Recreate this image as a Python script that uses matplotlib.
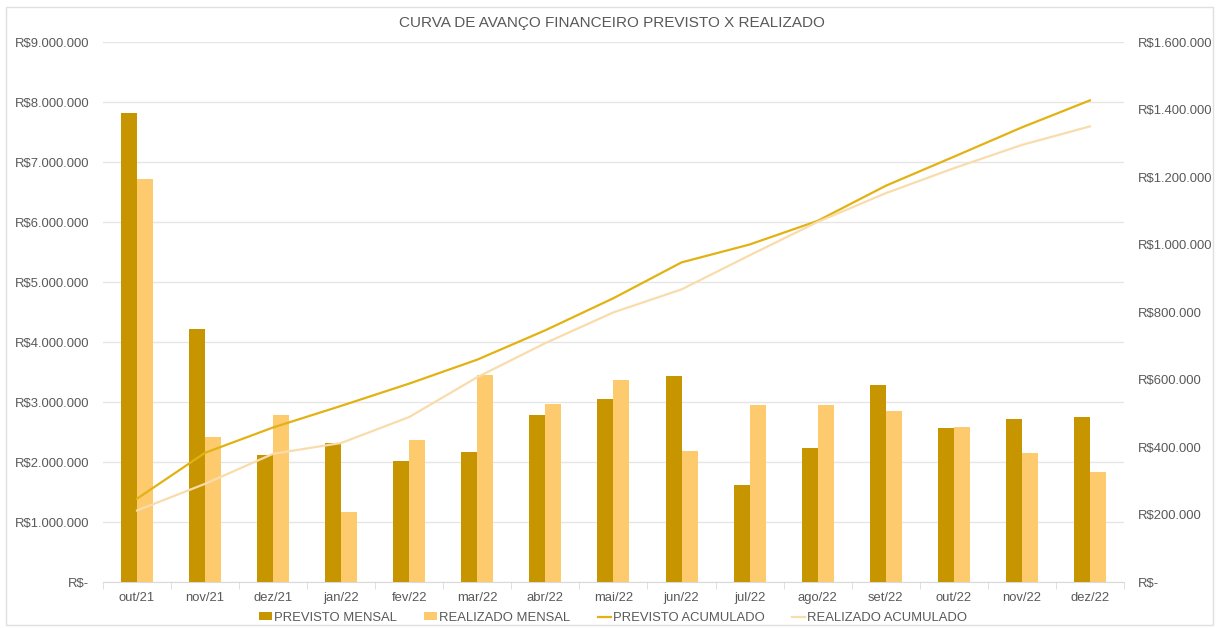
import matplotlib
matplotlib.use("Agg")
import matplotlib.pyplot as plt
import matplotlib.patches as mpatches
from matplotlib.lines import Line2D
from matplotlib.ticker import FuncFormatter, MultipleLocator, FixedLocator
import numpy as np

# ── data ──────────────────────────────────────────────────────────────────────
meses = ["out/21", "nov/21", "dez/21", "jan/22", "fev/22", "mar/22", "abr/22",
         "mai/22", "jun/22", "jul/22", "ago/22", "set/22", "out/22", "nov/22", "dez/22"]

previsto_mensal = [7820000, 4220000, 2120000, 2320000, 2020000, 2170000, 2780000,
                   3050000, 3440000, 1610000, 2230000, 3280000, 2570000, 2710000, 2750000]
realizado_mensal = [6710000, 2410000, 2780000, 1170000, 2370000, 3450000, 2970000,
                    3360000, 2190000, 2950000, 2950000, 2850000, 2580000, 2150000, 1840000]

previsto_acum = [247000, 383000, 458000, 522000, 588000, 659000, 746000,
                 841000, 947000, 1000000, 1070000, 1174000, 1260000, 1347000, 1427000]
realizado_acum = [212000, 291000, 380000, 412000, 489000, 607000, 708000,
                  799000, 867000, 968000, 1067000, 1152000, 1226000, 1295000, 1350000]

# ── style ─────────────────────────────────────────────────────────────────────
C_PREV_BAR = "#C69500"
C_REAL_BAR = "#FECA6E"
C_PREV_LIN = "#E2B213"
C_REAL_LIN = "#F9DCAC"
C_TEXT = "#595959"
C_GRID = "#E6E6E6"

plt.rcParams["font.family"] = ["Liberation Sans", "DejaVu Sans"]
plt.rcParams["font.size"] = 9.4


def brl(v, pos=None):
    if abs(v) < 1e-6:
        return "R$-"
    return "R$" + f"{v:,.0f}".replace(",", ".")


fig = plt.figure(figsize=(12.19, 6.28), dpi=100)
ax = fig.add_axes([0.0845, 0.0732, 0.8375, 0.8599])
ax2 = ax.twinx()

x = np.arange(len(meses))
w = 0.235
ax.bar(x - w / 2, previsto_mensal, width=w, color=C_PREV_BAR, zorder=3)
ax.bar(x + w / 2, realizado_mensal, width=w, color=C_REAL_BAR, zorder=3)

ax2.plot(x, previsto_acum, color=C_PREV_LIN, lw=1.6, zorder=4)
ax2.plot(x, realizado_acum, color=C_REAL_LIN, lw=1.6, zorder=4)

ax.set_xlim(-0.5, len(meses) - 0.5)
ax.set_ylim(0, 9000000)
ax2.set_ylim(0, 1600000)
ax.yaxis.set_major_locator(MultipleLocator(1000000))
ax2.yaxis.set_major_locator(MultipleLocator(200000))
ax.yaxis.set_major_formatter(FuncFormatter(brl))
ax2.yaxis.set_major_formatter(FuncFormatter(brl))

ax.set_xticks(x)
ax.set_xticklabels(meses)
ax.xaxis.set_minor_locator(FixedLocator(np.arange(-0.5, len(meses), 1.0)))
ax.tick_params(axis="x", which="major", length=0, pad=7, colors=C_TEXT, labelsize=9.4)
ax.tick_params(axis="x", which="minor", length=5, color="#D9D9D9")
ax.tick_params(axis="y", length=0, pad=10, colors=C_TEXT, labelsize=9.4)
ax2.tick_params(axis="y", length=0, pad=10, colors=C_TEXT, labelsize=9.4)

ax.grid(axis="y", color=C_GRID, lw=1, zorder=0)
ax.set_axisbelow(True)
for a in (ax, ax2):
    for s in ("top", "left", "right"):
        a.spines[s].set_visible(False)
    a.spines["bottom"].set_color("#D9D9D9")
ax2.spines["bottom"].set_visible(False)
ax.set_zorder(ax2.get_zorder() - 1)
ax.patch.set_visible(True)
ax2.patch.set_visible(False)

fig.text(0.502, 0.964, "CURVA DE AVANÇO FINANCEIRO PREVISTO X REALIZADO",
         ha="center", va="center", fontsize=11, color=C_TEXT)

handles = [
    mpatches.Patch(facecolor=C_PREV_BAR, label="PREVISTO MENSAL"),
    mpatches.Patch(facecolor=C_REAL_BAR, label="REALIZADO MENSAL"),
    Line2D([], [], color=C_PREV_LIN, lw=1.6, label="PREVISTO ACUMULADO"),
    Line2D([], [], color=C_REAL_LIN, lw=1.6, label="REALIZADO ACUMULADO"),
]
fig.legend(handles=handles, loc="center", bbox_to_anchor=(0.503, 0.016), ncol=4,
           frameon=False, fontsize=9.4, labelcolor=C_TEXT, handlelength=1.0,
           handleheight=0.6, handletextpad=0.15, columnspacing=2.1)

# thin frame round the whole chart
fig.add_artist(mpatches.Rectangle((0.005, 0.004), 0.99, 0.985, transform=fig.transFigure,
                                  fill=False, edgecolor="#E0E0E0", lw=1))

fig.savefig("out.png", dpi=100)
